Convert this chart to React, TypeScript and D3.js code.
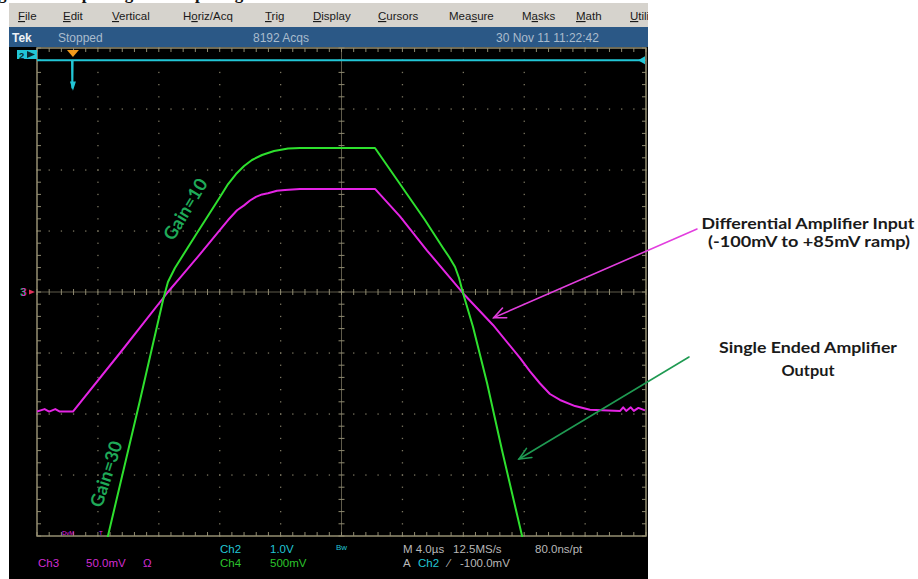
import React from 'react';
import * as d3 from 'd3';

// ---------- acquisition data ----------
// horizontal: 4.0 µs/div, 10 divisions centred on the trigger reference
const timeDomain: [number, number] = [-20, 20];

// Ch3 (magenta) — differential amplifier input, 50.0 mV/div
const ch3Time = [-20, -19.5, -19.2, -18.8, -18.5, -17.64, -14.55, -11.4, -10.61, -9.29, -7.98, -7.45, -6.86, -6.4, -6.01, -5.62, -5.22, -4.83, -4.24, -3.71, -2.73, 2.2, 3.84, 5.62, 7.98, 9.95, 11.72, 12.38, 13.04, 13.69, 14.35, 15.34, 16.32, 18.3, 18.5, 18.7, 19.0, 19.2, 19.5, 19.93];
const ch3Millivolts = [-98, -96, -98, -96, -98, -98, -50, 0, 11.5, 31, 51, 59, 67, 71, 75, 78, 80, 81, 83, 83.6, 84.5, 84.5, 62, 34, -1, -27, -54, -65, -75, -83.6, -88.5, -93.5, -96.5, -97.5, -94.5, -97.5, -94.5, -97.5, -95, -97];

// Ch4 (green) — single ended amplifier output, 500 mV/div
const ch4Time = [-15.47, -15.34, -13.23, -11.72, -11.4, -10.94, -9.49, -7.98, -7.45, -6.93, -6.4, -5.88, -5.22, -4.43, -3.51, -2.73, 2.2, 3.84, 5.48, 6.67, 7.07, 7.46, 7.72, 7.98, 8.64, 9.56, 10.54, 11.86, 12.0];
const ch4Millivolts = [-2074, -2000, -885, -66, 82, 197, 484, 779, 885, 967, 1033, 1082, 1123, 1156, 1176, 1180, 1180, 885, 590, 361, 287, 205, 115, -8, -287, -746, -1295, -2000, -2080];

// Ch2 (cyan) — trigger channel, 1.0 V/div
const ch2Time = [-20, -17.7, -17.68, -17.66, 19.9];
const ch2Volts = [3.8, 3.8, 3.35, 3.8, 3.8];
const triggerTime = -17.64;

// ---------- instrument texts ----------
const menuItems = ['File', 'Edit', 'Vertical', 'Horiz/Acq', 'Trig', 'Display', 'Cursors', 'Measure', 'Masks', 'Math', 'Utilities'];
const menuHotkeyIndex = [0, 0, 0, 1, 0, 0, 0, 3, 1, 0, 0];
const statusTexts = ['Tek', 'Stopped', '8192 Acqs', '30 Nov 11 11:22:42'];

const inputLabel = ['Differential Amplifier Input', '(-100mV to +85mV ramp)'];
const outputLabel = ['Single Ended  Amplifier', 'Output'];
const gainLabels = ['Gain=10', 'Gain=30'];

// ---------- layout ----------
const W = 918;
const H = 579;
const SCREEN = { left: 9, right: 648, top: 3, menuBottom: 27, statusBottom: 47, bottom: 579 };
const PLOT = { left: 37, right: 646, top: 48, bottom: 536 };
const menuX = [18, 63, 112, 183, 265, 313, 378, 449, 522, 576, 630];
const statusX = [12, 58, 253, 496];

const MAGENTA = '#e424e4';
const GREEN = '#2ee02e';
const CYAN = '#22c6d6';
const GRID = '#7a7560';
const SCOPE_FONT = '"Liberation Sans", Arial, sans-serif';
const NOTE_FONT = 'Lato, "Open Sans", sans-serif';

function Arrow({ x1, y1, x2, y2, color }: { x1: number; y1: number; x2: number; y2: number; color: string }) {
  const ang = Math.atan2(y2 - y1, x2 - x1);
  const len = 13;
  const spread = 0.42;
  const a1 = ang + Math.PI - spread;
  const a2 = ang + Math.PI + spread;
  return (
    <g stroke={color} strokeWidth={1.6} fill="none" strokeLinecap="round">
      <line x1={x1} y1={y1} x2={x2} y2={y2} />
      <polyline points={`${x2 + len * Math.cos(a1)},${y2 + len * Math.sin(a1)} ${x2},${y2} ${x2 + len * Math.cos(a2)},${y2 + len * Math.sin(a2)}`} />
    </g>
  );
}

export default function App() {
  const x = d3.scaleLinear().domain(timeDomain).range([PLOT.left, PLOT.right]);
  const yDiv = d3.scaleLinear().domain([-4, 4]).range([PLOT.bottom, PLOT.top]);
  const y2 = d3.scaleLinear().domain([-4, 4]).range([PLOT.bottom, PLOT.top]);
  const y3 = d3.scaleLinear().domain([-200, 200]).range([PLOT.bottom, PLOT.top]);
  const y4 = d3.scaleLinear().domain([-2000, 2000]).range([PLOT.bottom, PLOT.top]);

  const line = d3.line<[number, number]>().x((d) => d[0]).y((d) => d[1]).curve(d3.curveLinear);
  const ch3Path = line(ch3Time.map((t, i) => [x(t), y3(ch3Millivolts[i])]));
  const ch4Path = line(ch4Time.map((t, i) => [x(t), y4(ch4Millivolts[i])]));
  const ch2Path = line(ch2Time.map((t, i) => [x(t), y2(ch2Volts[i])]));

  // graticule
  const majorT = d3.range(-16, 17, 4);
  const majorV = d3.range(-3, 4, 1);
  const minorT = d3.range(-20, 20.001, 0.8);
  const minorV = d3.range(-4, 4.001, 0.2);
  const dots: JSX.Element[] = [];
  majorT.filter((t) => t !== 0).forEach((t) =>
    minorV.forEach((v, j) => dots.push(<rect key={`vt${t}-${j}`} x={x(t) - 0.6} y={yDiv(v) - 0.6} width={1.3} height={1.3} fill={GRID} />))
  );
  majorV.filter((v) => v !== 0).forEach((v) =>
    minorT.forEach((t, j) => dots.push(<rect key={`hv${v}-${j}`} x={x(t) - 0.6} y={yDiv(v) - 0.6} width={1.3} height={1.3} fill={GRID} />))
  );
  const ticks: JSX.Element[] = [];
  minorT.forEach((t, j) => {
    const px = x(t);
    ticks.push(<line key={`tc${j}`} x1={px} x2={px} y1={yDiv(0) - 3} y2={yDiv(0) + 3} />);
    ticks.push(<line key={`tt${j}`} x1={px} x2={px} y1={PLOT.top} y2={PLOT.top + 4} />);
    ticks.push(<line key={`tb${j}`} x1={px} x2={px} y1={PLOT.bottom} y2={PLOT.bottom - 4} />);
  });
  minorV.forEach((v, j) => {
    const py = yDiv(v);
    ticks.push(<line key={`vc${j}`} x1={x(0) - 3} x2={x(0) + 3} y1={py} y2={py} />);
    ticks.push(<line key={`vl${j}`} x1={PLOT.left} x2={PLOT.left + 4} y1={py} y2={py} />);
    ticks.push(<line key={`vr${j}`} x1={PLOT.right} x2={PLOT.right - 4} y1={py} y2={py} />);
  });

  const trigX = x(triggerTime);
  const ch2Level = y2(ch2Volts[0]);

  // arrow targets placed on the traces' own scales
  const inputTip = { x: x(10.0), y: y3(-21) };
  const outputTip = { x: x(11.66), y: y4(-1369) };

  // gain label anchors (time on x, Ch4 mV on y)
  const gain10 = { x: x(-9.9), y: y4(651), angle: -59 };
  const gain30 = { x: x(-15.06), y: y4(-1508), angle: -72 };

  return (
    <svg width={W} height={H} viewBox={`0 0 ${W} ${H}`} style={{ position: 'absolute', left: 0, top: 0, background: '#fff' }}>
      <defs>
        <clipPath id="screenClip">
          <rect x={SCREEN.left} y={0} width={SCREEN.right - SCREEN.left} height={H} />
        </clipPath>
        <clipPath id="plotClip">
          <rect x={PLOT.left} y={PLOT.top} width={PLOT.right - PLOT.left} height={PLOT.bottom - PLOT.top + 1} />
        </clipPath>
      </defs>

      {/* caption line above the screenshot, mostly cut off */}
      <text x={-2} y={-1} fontFamily='"Liberation Serif", "Times New Roman", serif' fontWeight="bold" fontSize={17} fill="#111">
        gure 9: Output Signal Comparing Gains
      </text>

      <g clipPath="url(#screenClip)">
        {/* menu bar */}
        <rect x={SCREEN.left} y={SCREEN.top} width={SCREEN.right - SCREEN.left} height={SCREEN.menuBottom - SCREEN.top} fill="#d6d3cd" />
        {menuItems.map((m, i) => {
          const k = menuHotkeyIndex[i];
          return (
            <text key={m} x={menuX[i]} y={20} fontFamily={SCOPE_FONT} fontSize={11.5} fill="#1a1a1a">
              {m.slice(0, k)}
              <tspan textDecoration="underline">{m[k]}</tspan>
              {m.slice(k + 1)}
            </text>
          );
        })}
        {/* status bar */}
        <rect x={SCREEN.left} y={SCREEN.menuBottom} width={SCREEN.right - SCREEN.left} height={SCREEN.statusBottom - SCREEN.menuBottom} fill="#2b5886" />
        {statusTexts.map((s, i) => (
          <text key={s} x={statusX[i]} y={42} fontFamily={SCOPE_FONT} fontSize={12} fill={i === 0 ? '#eef2f6' : '#aabccd'} fontWeight={i === 0 ? 'bold' : 'normal'}>
            {s}
          </text>
        ))}
        {/* display */}
        <rect x={SCREEN.left} y={SCREEN.statusBottom} width={SCREEN.right - SCREEN.left} height={SCREEN.bottom - SCREEN.statusBottom} fill="#000" />
      </g>

      {/* graticule */}
      <g>{dots}</g>
      <line x1={PLOT.left} x2={PLOT.right} y1={yDiv(0)} y2={yDiv(0)} stroke="#5e5a4a" strokeWidth={1} />
      <line x1={x(0)} x2={x(0)} y1={PLOT.top} y2={PLOT.bottom} stroke="#5e5a4a" strokeWidth={1} />
      <g stroke="#8f8a70" strokeWidth={1}>{ticks}</g>
      <rect x={PLOT.left} y={PLOT.top} width={PLOT.right - PLOT.left} height={PLOT.bottom - PLOT.top} fill="none" stroke="#958f72" strokeWidth={1.5} />

      {/* channel markers */}
      <rect x={17} y={50} width={20} height={9} fill={CYAN} />
      <text x={19} y={58.5} fontFamily={SCOPE_FONT} fontSize={9.5} fontWeight="bold" fill="#0a2a30">2</text>
      <path d="M27,51 L35,54.5 L27,58 Z" fill="#0a2a30" />
      <path d={`M${trigX - 6},50 L${trigX + 6},50 L${trigX},57 Z`} fill="#f29a1c" />
      <path d={`M${PLOT.right - 1},${ch2Level - 4} L${PLOT.right - 8},${ch2Level} L${PLOT.right - 1},${ch2Level + 4} Z`} fill={CYAN} />
      <text x={20} y={yDiv(0) + 4} fontFamily={SCOPE_FONT} fontSize={10} fill={GREEN}>3</text>
      <text x={21} y={yDiv(0) + 4} fontFamily={SCOPE_FONT} fontSize={10} fill={MAGENTA}>3</text>
      <path d={`M29,${yDiv(0) - 2.5} L35,${yDiv(0)} L29,${yDiv(0) + 2.5} Z`} fill="#e0305a" />
      <text x={62} y={PLOT.bottom - 1} fontFamily={SCOPE_FONT} fontSize={6} fill={MAGENTA}>DvM</text>
      <text x={99} y={PLOT.bottom - 1} fontFamily={SCOPE_FONT} fontSize={6} fill={MAGENTA}>T</text>

      {/* traces */}
      <g clipPath="url(#plotClip)" fill="none" strokeWidth={2} strokeLinejoin="round">
        <path d={ch2Path ?? ''} stroke={CYAN} />
        <path d={ch3Path ?? ''} stroke={MAGENTA} />
        <path d={ch4Path ?? ''} stroke={GREEN} />
      </g>
      <path d={`M${trigX - 3},${y2(3.45)} L${trigX + 3},${y2(3.45)} L${trigX},${y2(3.3)} Z`} fill={CYAN} />

      {/* gain labels */}
      <text transform={`translate(${gain10.x},${gain10.y}) rotate(${gain10.angle})`} textAnchor="middle" fontFamily={NOTE_FONT} fontWeight="bold" fontSize={18} fill="#1faa58">
        {gainLabels[0]}
      </text>
      <text transform={`translate(${gain30.x},${gain30.y}) rotate(${gain30.angle})`} textAnchor="middle" fontFamily={NOTE_FONT} fontWeight="bold" fontSize={18} fill="#1faa58">
        {gainLabels[1]}
      </text>

      {/* readouts */}
      <g fontFamily={SCOPE_FONT} fontSize={11.5}>
        <text x={220} y={553} fill={CYAN}>Ch2</text>
        <text x={270} y={553} fill={CYAN}>1.0V</text>
        <text x={220} y={567} fill="#2cc42c">Ch4</text>
        <text x={270} y={567} fill="#2cc42c">500mV</text>
        <text x={38} y={567} fill="#d22cd2">Ch3</text>
        <text x={86} y={567} fill="#d22cd2">50.0mV</text>
        <text x={143} y={567} fill="#d22cd2">Ω</text>
        <text x={336} y={550} fill={CYAN} fontSize={8}>Bw</text>
        <text x={403} y={553} fill="#b8b8b8">M 4.0µs</text>
        <text x={453} y={553} fill="#b8b8b8">12.5MS/s</text>
        <text x={535} y={553} fill="#b8b8b8">80.0ns/pt</text>
        <text x={403} y={567} fill="#b8b8b8">A</text>
        <text x={418} y={567} fill={CYAN}>Ch2</text>
        <text x={448} y={567} fill="#b8b8b8">⁄</text>
        <text x={460} y={567} fill="#b8b8b8">-100.0mV</text>
      </g>

      {/* annotations */}
      <Arrow x1={697} y1={229} x2={inputTip.x} y2={inputTip.y} color="#e23ede" />
      <Arrow x1={689} y1={357} x2={outputTip.x} y2={outputTip.y} color="#1f9a52" />
      <g fontFamily={NOTE_FONT} fontWeight="bold" fill="#1a1a1a" textAnchor="middle">
        <text x={808} y={229} fontSize={16} textLength={213} lengthAdjust="spacingAndGlyphs">{inputLabel[0]}</text>
        <text x={809} y={247} fontSize={16} textLength={202} lengthAdjust="spacingAndGlyphs">{inputLabel[1]}</text>
        <text x={808} y={353} fontSize={16} textLength={178} lengthAdjust="spacingAndGlyphs">{outputLabel[0]}</text>
        <text x={808} y={376} fontSize={16} textLength={53} lengthAdjust="spacingAndGlyphs">{outputLabel[1]}</text>
      </g>
    </svg>
  );
}
